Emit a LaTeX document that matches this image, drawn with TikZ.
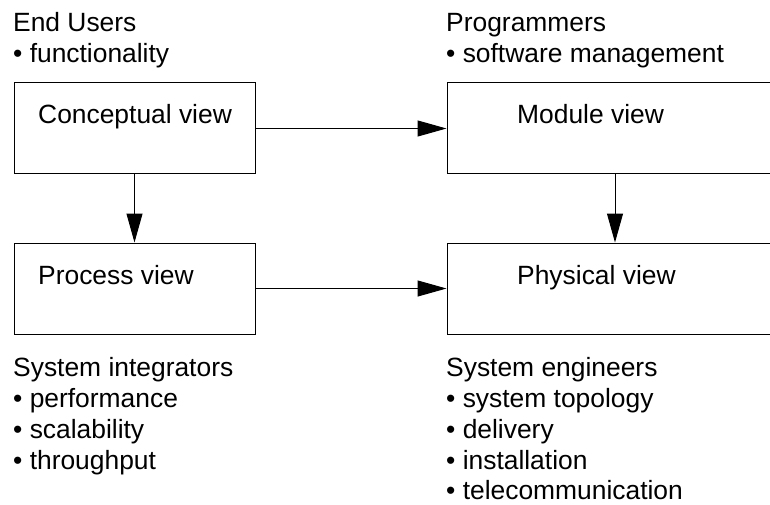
\documentclass[tikz,border=0pt]{standalone}
\usepackage{fontspec}
\setmainfont{Liberation Sans}
\usetikzlibrary{arrows.meta}
\begin{document}
\begin{tikzpicture}[x=1pt,y=-1pt,
    viewbox/.style={draw,line width=1pt,minimum height=91pt,inner sep=0pt},
    txt/.style={anchor=base west,inner sep=0pt,font=\fontsize{26.4}{32}\selectfont},
    arr/.style={line width=1pt,-{Triangle[length=29pt,width=16pt]}}]
      \useasboundingbox (0,0) rectangle (770,505);
      % the four views
      \node[viewbox,minimum width=241pt] (conc) at (134.5,128.5) {};
      \node[viewbox,minimum width=336pt] (mod) at (615,128.5) {};
      \node[viewbox,minimum width=241pt] (proc) at (134.5,288.5) {};
      \node[viewbox,minimum width=336pt] (phys) at (615,288.5) {};
      \node[txt] (conct) at (38,124) {Conceptual view};
      \node[txt] (modt) at (517,124) {Module view};
      \node[txt] (proct) at (38,284) {Process view};
      \node[txt] (physt) at (517,284) {Physical view};
      \draw[arr] (conc) -- (mod);
      \draw[arr] (conc) -- (proc);
      \draw[arr] (mod) -- (phys);
      \draw[arr] (proc) -- (phys);
      % stakeholders
      \node[txt] (users) at (13,32) {End Users};
      \node[txt] (users1) at (13,63) {• functionality};
      \node[txt] (progr) at (446,32) {Programmers};
      \node[txt] (progr1) at (446,63) {• software management};
      \node[txt] (integr) at (13,376) {System integrators};
      \node[txt] (integr1) at (13,407) {• performance};
      \node[txt] (integr2) at (13,438) {• scalability};
      \node[txt] (integr3) at (13,469) {• throughput};
      \node[txt] (engin) at (446,376) {System engineers};
      \node[txt] (engin1) at (446,407) {• system topology};
      \node[txt] (engin2) at (446,438) {• delivery};
      \node[txt] (engin3) at (446,469) {• installation};
      \node[txt] (engin4) at (446,499) {• telecommunication};
\end{tikzpicture}
\end{document}
